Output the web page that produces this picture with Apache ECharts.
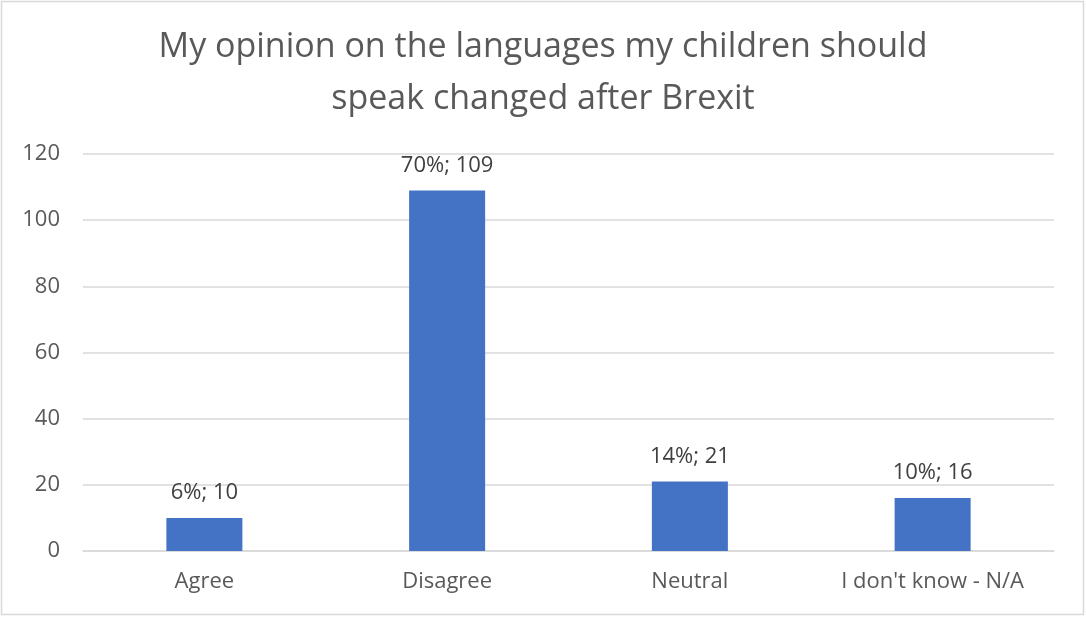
<!DOCTYPE html>
<html><head><meta charset="utf-8">
<script src="https://cdn.jsdelivr.net/npm/echarts@6/dist/echarts.min.js"></script>
<style>html,body{margin:0;padding:0;background:#fff}#c{width:1086px;height:617px}</style>
</head><body><div id="c"></div>
<script>
const titleText = "My opinion on the languages my children should\nspeak changed after Brexit";
const categories = ["Agree", "Disagree", "Neutral", "I don't know - N/A"];
const counts = [10, 109, 21, 16];
const percents = ["6%", "70%", "14%", "10%"];
const yTicks = {min: 0, max: 120, interval: 20};

const FONT = "Open Sans";
const chart = echarts.init(document.getElementById('c'), null, {renderer: 'canvas'});
chart.setOption({
  backgroundColor: '#fff',
  animation: false,
  graphic: [{type: 'rect', shape: {x: 1.5, y: 1.5, width: 1082, height: 613}, style: {fill: 'none', stroke: '#d9d9d9', lineWidth: 1.5}}],
  title: {
    text: titleText, left: 'center', top: 16,
    textStyle: {fontFamily: FONT, fontSize: 34, fontWeight: 'normal', color: '#595959', lineHeight: 52}
  },
  grid: {left: 83, right: 32, top: 154, bottom: 66, containLabel: false},
  xAxis: {
    type: 'category', data: categories,
    axisLine: {lineStyle: {color: '#d9d9d9', width: 1.5}},
    axisTick: {show: false},
    axisLabel: {fontFamily: FONT, fontSize: 22, color: '#595959', margin: 20}
  },
  yAxis: {
    type: 'value', min: yTicks.min, max: yTicks.max, interval: yTicks.interval,
    axisLine: {show: false}, axisTick: {show: false},
    splitLine: {lineStyle: {color: '#d9d9d9', width: 1.5}},
    axisLabel: {fontFamily: FONT, fontSize: 22, color: '#595959', margin: 23}
  },
  series: [{
    type: 'bar', data: counts, barWidth: 76,
    itemStyle: {color: '#4472C4'},
    label: {
      show: true, position: 'top', distance: 14,
      fontFamily: FONT, fontSize: 22, color: '#404040',
      formatter: p => percents[p.dataIndex] + '; ' + p.value
    }
  }]
});
</script></body></html>
